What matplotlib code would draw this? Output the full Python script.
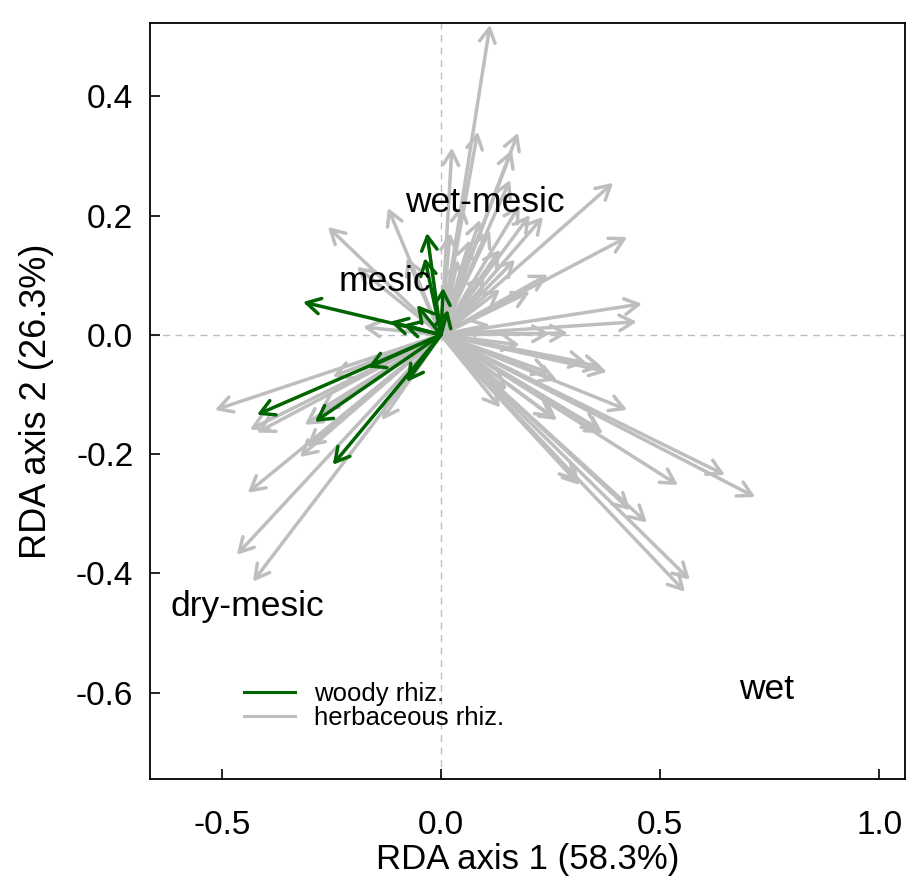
import matplotlib
matplotlib.use("Agg")
import matplotlib.pyplot as plt
from matplotlib.lines import Line2D

plt.rcParams['font.family'] = ['Liberation Sans', 'DejaVu Sans']

# species scores (arrow tips), herbaceous rhizomes
herb_x = [0.112, 0.084, 0.025, 0.176, 0.162, 0.158, 0.393, 0.425, 0.459, 0.447,
          0.233, 0.244, 0.203, 0.290, 0.249, -0.258, -0.121, -0.078, -0.192, -0.178,
          0.048, 0.089, 0.112, 0.021, 0.066, 0.135, 0.039, 0.169, 0.100, 0.135,
          0.180, 0.203,
          0.379, 0.368, 0.333, 0.265, 0.425, 0.265, 0.363, 0.370, 0.541, 0.648,
          0.717, 0.317, 0.310, 0.432, 0.470, 0.568, 0.557, 0.135, 0.249, 0.180,
          0.112, 0.151, 0.256,
          -0.516, -0.436, -0.420, -0.311, -0.276, -0.322, -0.306, -0.441, -0.466,
          -0.429, -0.135, -0.247]
herb_y = [0.520, 0.341, 0.314, 0.339, 0.310, 0.260, 0.255, 0.164, 0.052, 0.022,
          0.198, 0.101, 0.072, 0.003, 0.002, 0.181, 0.213, 0.129, 0.114, 0.013,
          0.218, 0.193, 0.176, 0.171, 0.159, 0.143, 0.126, 0.126, 0.101, 0.076,
          0.218, 0.201,
          -0.062, -0.054, -0.047, -0.076, -0.126, -0.143, -0.159, -0.165, -0.252, -0.235,
          -0.272, -0.252, -0.246, -0.294, -0.315, -0.411, -0.431, -0.122, -0.064, -0.017,
          0.017, -0.092, -0.139,
          -0.126, -0.159, -0.164, -0.151, -0.126, -0.205, -0.188, -0.265, -0.369,
          -0.414, -0.143, -0.070]

# woody rhizomes
woody_x = [-0.315, -0.032, -0.037, 0.005, 0.016, -0.055, -0.116, -0.087,
           -0.420, -0.288, -0.167, -0.247, -0.078]
woody_y = [0.055, 0.171, 0.129, 0.079, 0.042, 0.050, 0.022, 0.017,
           -0.134, -0.146, -0.055, -0.218, -0.079]

# habitat labels
hab_names = ["wet-mesic", "mesic", "dry-mesic", "wet"]
hab_x = [0.100, -0.128, -0.441, 0.744]
hab_y = [0.222, 0.090, -0.455, -0.595]

GREY = "#BEBEBE"
GREEN = "#006400"

fig = plt.figure(figsize=(9.07, 8.81), dpi=100)
ax = fig.add_axes([150 / 907, 102 / 881, 755 / 907, 756 / 881])
ax.set_xlim(-0.664, 1.059)
ax.set_ylim(-0.745, 0.523)

ax.axhline(0, color=GREY, lw=1, ls=(0, (5, 4)), zorder=1)
ax.axvline(0, color=GREY, lw=1, ls=(0, (5, 4)), zorder=1)

astyle = "->,head_length=0.5,head_width=0.28"
for x, y in zip(herb_x, herb_y):
    ax.annotate("", xy=(x, y), xytext=(0, 0),
                arrowprops=dict(arrowstyle=astyle, color=GREY, lw=2.5,
                                shrinkA=0, shrinkB=0, mutation_scale=20))
for x, y in zip(woody_x, woody_y):
    ax.annotate("", xy=(x, y), xytext=(0, 0),
                arrowprops=dict(arrowstyle=astyle, color=GREEN, lw=2.5,
                                shrinkA=0, shrinkB=0, mutation_scale=20))

for name, x, y in zip(hab_names, hab_x, hab_y):
    ax.text(x, y, name, fontsize=25.5, ha="center", va="center", zorder=5)

handles = [Line2D([], [], color=GREEN, lw=2.2),
           Line2D([], [], color=GREY, lw=2.2)]
ax.legend(handles, ["woody rhiz.", "herbaceous rhiz."], loc="upper left",
          bbox_to_anchor=(0.124, 0.128), frameon=False, fontsize=18.5,
          handlelength=2.0, handletextpad=0.75, labelspacing=0.0,
          borderpad=0, borderaxespad=0)

ax.set_xticks([-0.5, 0.0, 0.5, 1.0])
ax.set_xticklabels(["-0.5", "0.0", "0.5", "1.0"])
ax.set_yticks([-0.6, -0.4, -0.2, 0.0, 0.2, 0.4])
ax.set_yticklabels(["-0.6", "-0.4", "-0.2", "0.0", "0.2", "0.4"])
ax.tick_params(axis="both", direction="in", length=7, width=1.2, labelsize=24)
ax.tick_params(axis="x", pad=22)
ax.tick_params(axis="y", pad=12)
for s in ax.spines.values():
    s.set_linewidth(1.3)

ax.set_xlabel("RDA axis 1 (58.3%)", fontsize=25, labelpad=2)
ax.set_ylabel("RDA axis 2 (26.3%)", fontsize=26, labelpad=16)

fig.savefig("out.png", dpi=100)
